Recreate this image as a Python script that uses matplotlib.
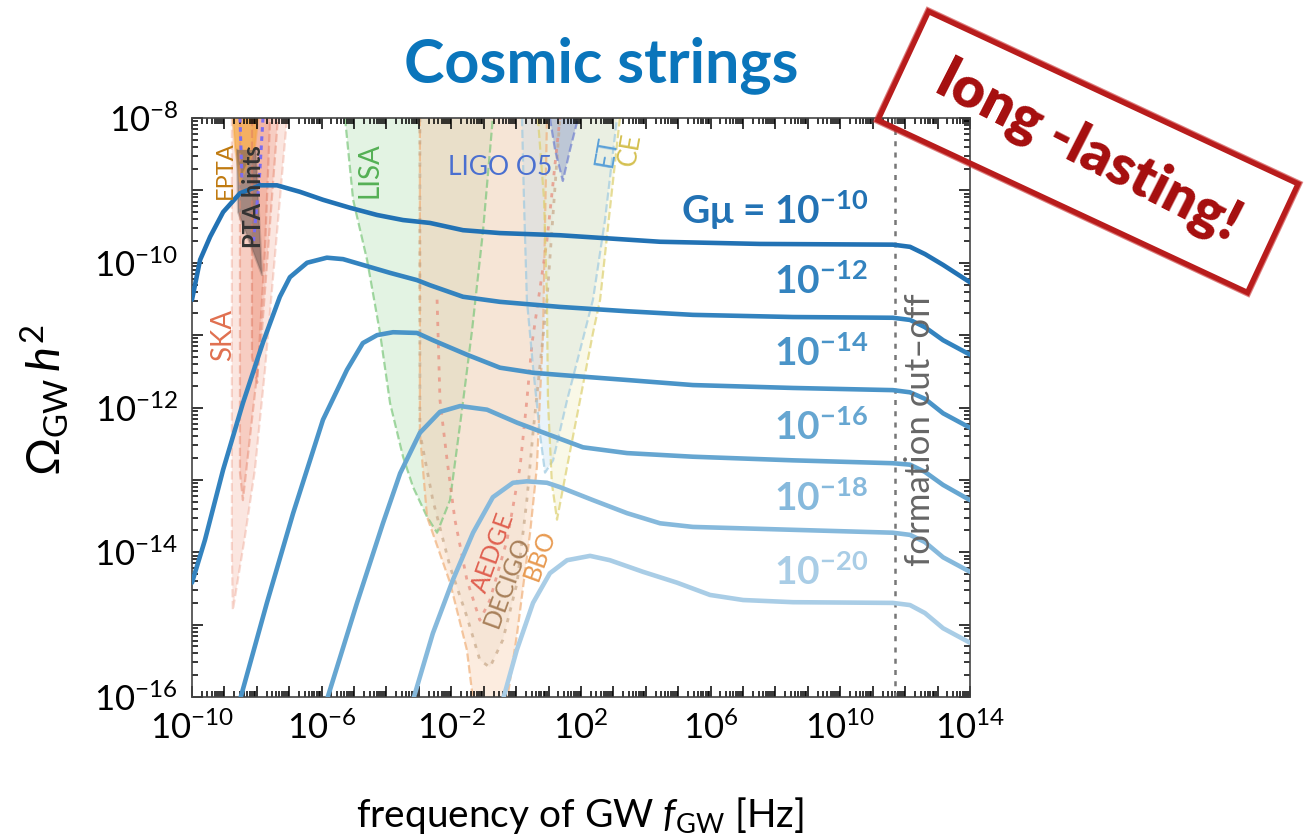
import numpy as np
import matplotlib.pyplot as plt
import matplotlib.patches as mpatches
import matplotlib.transforms as mtransforms
from matplotlib.ticker import LogLocator, FuncFormatter, NullFormatter

plt.rcParams['font.family'] = ['Lato', 'DejaVu Sans']
plt.rcParams['mathtext.fontset'] = 'custom'
plt.rcParams['mathtext.rm'] = 'Lato'
plt.rcParams['mathtext.it'] = 'Lato:italic'
plt.rcParams['mathtext.bf'] = 'Lato:bold'

# ─────────────────────────────────────────────
# Data: log10(f / Hz) and log10(Omega_GW h^2)
# ─────────────────────────────────────────────

gmu_exponents = [-10, -12, -14, -16, -18, -20]
curve_colors = ['#2272b4', '#3383bf', '#4a94c8', '#66a6d1', '#86b9dc', '#a9cde6']

lf_gmu10 = [-10.0, -9.75, -9.44, -9.04, -8.52, -7.90, -7.38, -6.67, -5.96, -5.13, -4.29,
            -3.49, -2.66, -1.64, -0.50, 1.35, 4.44, 7.52, 11.62, 12.15, 12.61, 13.17, 14.0]
lo_gmu10 = [-10.51, -9.96, -9.64, -9.30, -9.04, -8.93, -8.93, -9.02, -9.13, -9.24, -9.34,
            -9.41, -9.45, -9.55, -9.59, -9.62, -9.71, -9.74, -9.75, -9.78, -9.88, -10.03, -10.27]

lf_gmu12 = [-10.0, -9.60, -9.04, -8.43, -7.81, -7.29, -6.98, -6.45, -5.84, -5.34, -4.73,
            -3.89, -3.06, -2.66, -1.64, -0.50, 1.35, 3.42, 5.45, 8.54, 11.62, 12.15, 12.61,
            13.17, 14.0]
lo_gmu12 = [-14.42, -13.83, -12.86, -11.94, -11.10, -10.47, -10.20, -10.00, -9.93, -9.95, -10.03,
            -10.14, -10.24, -10.31, -10.47, -10.54, -10.61, -10.67, -10.72, -10.75, -10.76, -10.79,
            -10.89, -11.07, -11.27]

lf_gmu14 = [-8.52, -7.69, -6.88, -5.96, -5.22, -4.73, -4.29, -3.80, -3.06, -2.57, -1.52,
            -0.50, 0.52, 1.35, 3.42, 5.45, 8.54, 11.62, 12.15, 12.61, 13.17, 14.0]
lo_gmu14 = [-16.04, -14.70, -13.46, -12.17, -11.48, -11.11, -11.00, -10.96, -10.97, -11.07, -11.27,
            -11.45, -11.52, -11.55, -11.62, -11.69, -11.73, -11.76, -11.79, -11.88, -12.08, -12.28]

lf_gmu16 = [-5.84, -4.91, -4.11, -3.58, -2.97, -2.35, -1.73, -0.90, 0.03, 1.04, 2.06,
            3.42, 5.45, 8.54, 11.62, 12.15, 12.61, 13.17, 14.0]
lo_gmu16 = [-16.04, -14.70, -13.60, -12.91, -12.35, -12.06, -11.98, -12.03, -12.21, -12.38, -12.55,
            -12.63, -12.68, -12.73, -12.77, -12.79, -12.89, -13.07, -13.28]

lf_gmu18 = [-3.18, -2.57, -1.95, -1.33, -0.72, -0.10, 0.33, 0.95, 1.35, 2.37, 3.42,
            4.44, 5.45, 8.54, 11.62, 12.15, 12.61, 13.17, 14.0]
lo_gmu18 = [-16.04, -15.12, -14.38, -13.73, -13.24, -13.04, -13.02, -13.04, -13.10, -13.28, -13.46,
            -13.60, -13.65, -13.69, -13.73, -13.76, -13.86, -14.07, -14.27]

lf_gmu20 = [-0.41, 0.02, 0.52, 1.04, 1.57, 2.28, 2.89, 3.91, 4.96, 5.98, 7.00,
            8.54, 11.62, 12.15, 12.61, 13.17, 14.0]
lo_gmu20 = [-16.04, -15.35, -14.70, -14.29, -14.11, -14.05, -14.11, -14.27, -14.42, -14.59, -14.66,
            -14.69, -14.70, -14.73, -14.84, -15.05, -15.25]

lf_curves = [lf_gmu10, lf_gmu12, lf_gmu14, lf_gmu16, lf_gmu18, lf_gmu20]
lo_curves = [lo_gmu10, lo_gmu12, lo_gmu14, lo_gmu16, lo_gmu18, lo_gmu20]
label_lo = [-9.27, -10.25, -11.25, -12.27, -13.25, -14.27]
label_lf = 10.85

cutoff_lf = 11.68

# detector sensitivity regions (open boundary, starting and ending at the top)
ska1_lf = [-8.77, -8.77, -8.74, -8.37, -8.06, -7.75, -7.07]
ska1_lo = [-8.0, -14.0, -14.80, -13.79, -12.86, -11.48, -8.0]
ska2_lf = [-8.52, -8.52, -8.43, -7.84, -7.35]
ska2_lo = [-8.0, -12.9, -13.28, -10.93, -8.0]
ska3_lf = [-8.15, -8.15, -7.99, -7.75, -7.59]
ska3_lo = [-8.0, -11.3, -11.66, -9.82, -8.0]

epta_lf = [-8.74, -8.67, -8.52, -8.06, -7.96]
epta_lo = [-8.0, -8.41, -8.88, -8.41, -8.0]

pta_lf = [-8.61, -8.58, -7.84, -8.03]
pta_lo = [-8.44, -9.30, -10.17, -8.44]

nano_lf1 = [-8.52, -8.46]
nano_lo1 = [-8.0, -8.83]
nano_lf2 = [-7.81, -7.93, -8.03, -8.10]
nano_lo2 = [-8.0, -8.90, -9.35, -9.70]

lisa_lf = [-5.28, -5.03, -4.60, -4.20, -3.89, -3.49, -3.18, -2.75, -2.44,
           -2.04, -1.67, -1.36, -1.02, -0.72]
lisa_lo = [-8.0, -9.13, -9.96, -10.97, -11.94, -12.68, -13.10, -13.51, -13.73,
           -13.28, -12.03, -10.93, -9.55, -8.0]

bbo_lf = [-2.97, -2.97, -2.75, -2.04, -1.52, -1.33, -0.81, -0.28, 0.03, 0.43, 0.64, 0.73, 0.83, 0.95]
bbo_lo = [-8.0, -12.35, -13.51, -14.42, -15.35, -16.04, -16.59, -16.04, -15.12, -13.73,
          -12.82, -11.90, -10.97, -8.0]

decigo_lf = [-2.97, -2.97, -2.57, -2.04, -1.52, -1.12, -0.81, -0.41, 0.03, 0.33, 0.52, 0.73, 0.95, 1.35]
decigo_lo = [-8.0, -12.35, -13.28, -14.20, -14.89, -15.49, -15.59, -15.21, -14.42, -13.28,
             -12.35, -11.44, -10.51, -8.0]

aedge_lf = [-2.44, -2.35, -2.13, -1.89, -1.52, -1.12, -0.81, -0.28, 0.12, 0.33, 0.49, 0.95, 1.35]
aedge_lo = [-10.51, -11.90, -12.73, -13.55, -14.38, -14.94, -14.66, -13.83, -12.82, -11.90,
            -11.11, -9.69, -8.0]

ligo_lf = [1.04, 1.20, 1.44, 1.66, 1.91]
ligo_lo = [-8.0, -8.44, -8.87, -8.44, -8.0]

et_lf = [0.18, 0.24, 0.33, 0.52, 0.73, 0.89, 1.14, 1.57, 1.97, 2.37, 2.74, 3.11]
et_lo = [-8.0, -9.13, -10.51, -11.44, -12.35, -12.90, -12.73, -11.90, -11.21, -10.51, -9.41, -8.0]

ce_lf = [0.67, 0.86, 0.95, 0.98, 1.10, 1.26, 1.57, 1.97, 2.37, 2.59, 2.89, 3.20]
ce_lo = [-8.0, -9.13, -10.51, -11.90, -13.04, -13.55, -12.82, -11.90, -10.97, -10.51, -9.27, -8.0]


def region(ax, lf, lo, fc, ec, alpha, ls='--', fill=True, lw=1.6, ealpha=0.7):
    x = 10.0 ** np.array(lf)
    y = 10.0 ** np.array(lo)
    if fill:
        ax.fill(x, y, color=fc, alpha=alpha, lw=0, zorder=1)
    ax.plot(x, y, color=ec, ls=ls, lw=lw, alpha=ealpha, zorder=1.5)


def main():
    W, H = 1305, 839
    fig = plt.figure(figsize=(W / 100, H / 100), dpi=100)
    ax = fig.add_axes([192 / W, 1 - 697 / H, 778 / W, 579 / H])

    # detectors
    region(ax, ska1_lf, ska1_lo, '#f4b8a8', '#eda08c', 0.35, ealpha=0.4)
    region(ax, ska2_lf, ska2_lo, '#f0a08a', '#e88a72', 0.35, ealpha=0.5)
    region(ax, ska3_lf, ska3_lo, '#ec8c74', '#e07a62', 0.35, ealpha=0.5)
    region(ax, epta_lf, epta_lo, '#f5a742', '#f5a742', 0.75, ls='-', ealpha=0.5)
    region(ax, pta_lf, pta_lo, '#6e5a55', '#6e5a55', 0.6, ls='-', ealpha=0.3)
    ax.plot(10.0 ** np.array(nano_lf1), 10.0 ** np.array(nano_lo1), color='#7b6cf0',
            ls=(0, (1.5, 1.5)), lw=2.2, zorder=1.6)
    ax.plot(10.0 ** np.array(nano_lf2), 10.0 ** np.array(nano_lo2), color='#7b6cf0',
            ls=(0, (1.5, 1.5)), lw=2.2, zorder=1.6)

    region(ax, lisa_lf, lisa_lo, '#a8dca8', '#7cc77c', 0.32)
    region(ax, bbo_lf, bbo_lo, '#f9d2b4', '#f0b07a', 0.42)
    region(ax, decigo_lf, decigo_lo, '#d8c0a8', '#c8a888', 0.15, ls=(0, (1.5, 2.5)), lw=2.0)
    region(ax, aedge_lf, aedge_lo, '#f0b0a0', '#e88878', 0.0, ls=(0, (1.5, 2.5)), lw=2.0)
    region(ax, et_lf, et_lo, '#b8d8ee', '#9ecae1', 0.3)
    region(ax, ce_lf, ce_lo, '#eee8b0', '#ddd070', 0.3)
    region(ax, ligo_lf, ligo_lo, '#8898c8', '#7080d0', 0.45)

    # cosmic string spectra
    for lf, lo, c in zip(lf_curves, lo_curves, curve_colors):
        ax.plot(10.0 ** np.array(lf), 10.0 ** np.array(lo), color=c, lw=3.3,
                solid_capstyle='round', solid_joinstyle='round', zorder=3)

    ax.axvline(10.0 ** cutoff_lf, color='#777777', ls=(0, (2, 2.5)), lw=1.8, zorder=2)
    ax.text(10.0 ** 12.45, 10.0 ** -12.31, 'formation cut\u2013off', rotation=90,
            ha='center', va='center', fontsize=25, color='#666666', zorder=4)

    for i, (e, c, lo) in enumerate(zip(gmu_exponents, curve_colors, label_lo)):
        if i == 0:
            s = r'G$\mathbf{\mu}$ = $\mathbf{10^{%d}}$' % e
        else:
            s = r'$\mathbf{10^{%d}}$' % e
        ax.text(10.0 ** label_lf, 10.0 ** lo, s, ha='right', va='center',
                fontsize=28, fontweight='bold', color=c, zorder=4)

    # detector labels
    lab = dict(ha='center', va='center', zorder=4)
    ax.text(10.0 ** -8.98, 10.0 ** -8.72, 'EPTA', rotation=90, fontsize=17, color='#c07a10', **lab)
    ax.text(10.0 ** -8.09, 10.0 ** -9.08, 'PTA hints', rotation=90, fontsize=17,
            color='#333333', fontweight='bold', **lab)
    ax.text(10.0 ** -9.04, 10.0 ** -11.0, 'SKA', rotation=90, fontsize=20, color='#e07050', **lab)
    ax.text(10.0 ** -4.51, 10.0 ** -8.72, 'LISA', rotation=90, fontsize=20, color='#55b055', **lab)
    ax.text(10.0 ** -0.50, 10.0 ** -8.69, 'LIGO O5', fontsize=19, color='#4a6fd0', **lab)
    ax.text(10.0 ** 2.80, 10.0 ** -8.47, 'ET', rotation=80, fontsize=19, color='#5aa0d8', **lab)
    ax.text(10.0 ** 3.51, 10.0 ** -8.44, 'CE', rotation=80, fontsize=19, color='#d4c050', **lab)
    ax.text(10.0 ** -0.72, 10.0 ** -14.0, 'AEDGE', rotation=70, fontsize=18, color='#e06050', **lab)
    ax.text(10.0 ** -0.28, 10.0 ** -14.41, 'DECIGO', rotation=70, fontsize=18, color='#a8805a', **lab)
    ax.text(10.0 ** 0.73, 10.0 ** -14.04, 'BBO', rotation=70, fontsize=18, color='#e89a50', **lab)

    # axes
    ax.set_xscale('log')
    ax.set_yscale('log')
    ax.set_xlim(1e-10, 1e14)
    ax.set_ylim(1e-16, 1e-8)

    ax.xaxis.set_major_locator(LogLocator(base=10, numticks=40))
    ax.yaxis.set_major_locator(LogLocator(base=10, numticks=40))
    ax.xaxis.set_minor_locator(LogLocator(base=10, subs=np.arange(2, 10), numticks=40))
    ax.yaxis.set_minor_locator(LogLocator(base=10, subs=np.arange(2, 10), numticks=40))
    ax.xaxis.set_minor_formatter(NullFormatter())
    ax.yaxis.set_minor_formatter(NullFormatter())

    def fmt_x(v, pos):
        e = int(round(np.log10(v)))
        return r'$10^{%d}$' % e if e % 4 == 2 else ''

    def fmt_y(v, pos):
        e = int(round(np.log10(v)))
        return r'$10^{%d}$' % e if e % 2 == 0 else ''

    ax.xaxis.set_major_formatter(FuncFormatter(fmt_x))
    ax.yaxis.set_major_formatter(FuncFormatter(fmt_y))
    ax.tick_params(which='both', direction='in', top=True, right=True, labelsize=25, width=1.1)
    ax.tick_params(which='major', length=8, pad=10)
    ax.tick_params(which='minor', length=4)
    for sp in ax.spines.values():
        sp.set_linewidth(1.2)
        sp.set_color('#444444')

    fig.text(601 / W, 1 - 65 / H, 'Cosmic strings', ha='center', va='center',
             fontsize=44, fontweight='bold', color='#0a75bb')
    fig.text(45 / W, 1 - 400 / H, r'$\Omega_{\rm GW}\,h^2$', rotation=90,
             ha='center', va='center', fontsize=34)
    fig.text(580 / W, 1 - 815 / H, r'frequency of GW $f_{\rm GW}$ [Hz]',
             ha='center', va='center', fontsize=28)

    # "long-lasting!" stamp
    cx, cy = 1088, 687
    to_fig = mtransforms.Affine2D().rotate_deg_around(cx, cy, -25).scale(1 / W, 1 / H) + fig.transFigure
    rect = mpatches.Rectangle((cx - 204, cy - 60), 408, 120, fill=False,
                              ec='#b81c1c', lw=4, transform=to_fig)
    fig.add_artist(rect)
    rect2 = mpatches.Rectangle((cx - 207, cy - 63), 414, 126, fill=False,
                               ec='#c83030', lw=1.2, alpha=0.6, transform=to_fig)
    fig.add_artist(rect2)
    fig.text(cx / W, cy / H, 'long -lasting!', rotation=-27, ha='center', va='center',
             fontsize=41, fontweight='heavy', color='#a50e0e', rotation_mode='anchor')

    fig.savefig('out.png', dpi=100)
    plt.close(fig)


if __name__ == '__main__':
    main()
